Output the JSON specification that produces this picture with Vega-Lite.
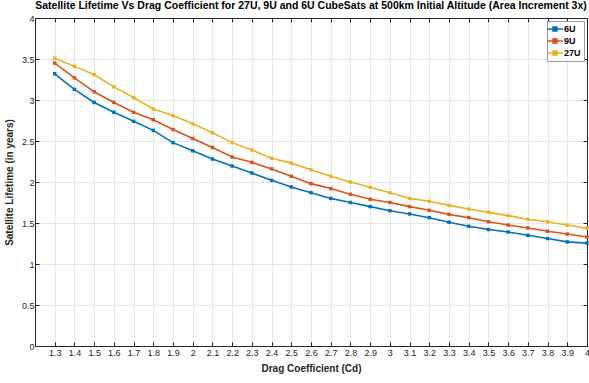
{
  "$schema": "https://vega.github.io/schema/vega-lite/v6.json",
  "width": 552,
  "height": 328,
  "autosize": {"type": "none"},
  "padding": {"left": 35, "top": 18, "right": 2, "bottom": 37},
  "title": {"text": "Satellite Lifetime Vs Drag Coefficient for 27U, 9U and 6U CubeSats at 500km Initial Altitude (Area Increment 3x)", "font": "Liberation Sans", "fontSize": 10.5, "fontWeight": "bold", "color": "#000000", "offset": 3, "anchor": "middle"},
  "config": {
    "view": {"stroke": "#262626", "strokeWidth": 1},
    "axis": {"labelFont": "Liberation Sans", "labelFontSize": 9, "labelColor": "#262626", "titleFont": "Liberation Sans", "titleFontSize": 10, "titleFontWeight": "bold", "titleColor": "#262626", "gridColor": "#e6e6e6", "domainColor": "#262626", "tickColor": "#262626", "tickSize": -4}
  },
  "data": {"values": [
    {"cd": 1.3, "s": "6U", "v": 3.32}, {"cd": 1.4, "s": "6U", "v": 3.13}, {"cd": 1.5, "s": "6U", "v": 2.97}, {"cd": 1.6, "s": "6U", "v": 2.85}, {"cd": 1.7, "s": "6U", "v": 2.74}, {"cd": 1.8, "s": "6U", "v": 2.63}, {"cd": 1.9, "s": "6U", "v": 2.48}, {"cd": 2.0, "s": "6U", "v": 2.38}, {"cd": 2.1, "s": "6U", "v": 2.28}, {"cd": 2.2, "s": "6U", "v": 2.195}, {"cd": 2.3, "s": "6U", "v": 2.11}, {"cd": 2.4, "s": "6U", "v": 2.02}, {"cd": 2.5, "s": "6U", "v": 1.94}, {"cd": 2.6, "s": "6U", "v": 1.87}, {"cd": 2.7, "s": "6U", "v": 1.80}, {"cd": 2.8, "s": "6U", "v": 1.75}, {"cd": 2.9, "s": "6U", "v": 1.70}, {"cd": 3.0, "s": "6U", "v": 1.65}, {"cd": 3.1, "s": "6U", "v": 1.61}, {"cd": 3.2, "s": "6U", "v": 1.565}, {"cd": 3.3, "s": "6U", "v": 1.51}, {"cd": 3.4, "s": "6U", "v": 1.46}, {"cd": 3.5, "s": "6U", "v": 1.42}, {"cd": 3.6, "s": "6U", "v": 1.39}, {"cd": 3.7, "s": "6U", "v": 1.35}, {"cd": 3.8, "s": "6U", "v": 1.31}, {"cd": 3.9, "s": "6U", "v": 1.27}, {"cd": 4.0, "s": "6U", "v": 1.255},
    {"cd": 1.3, "s": "9U", "v": 3.45}, {"cd": 1.4, "s": "9U", "v": 3.27}, {"cd": 1.5, "s": "9U", "v": 3.10}, {"cd": 1.6, "s": "9U", "v": 2.97}, {"cd": 1.7, "s": "9U", "v": 2.85}, {"cd": 1.8, "s": "9U", "v": 2.76}, {"cd": 1.9, "s": "9U", "v": 2.64}, {"cd": 2.0, "s": "9U", "v": 2.53}, {"cd": 2.1, "s": "9U", "v": 2.42}, {"cd": 2.2, "s": "9U", "v": 2.305}, {"cd": 2.3, "s": "9U", "v": 2.24}, {"cd": 2.4, "s": "9U", "v": 2.16}, {"cd": 2.5, "s": "9U", "v": 2.07}, {"cd": 2.6, "s": "9U", "v": 1.98}, {"cd": 2.7, "s": "9U", "v": 1.92}, {"cd": 2.8, "s": "9U", "v": 1.85}, {"cd": 2.9, "s": "9U", "v": 1.79}, {"cd": 3.0, "s": "9U", "v": 1.75}, {"cd": 3.1, "s": "9U", "v": 1.70}, {"cd": 3.2, "s": "9U", "v": 1.655}, {"cd": 3.3, "s": "9U", "v": 1.605}, {"cd": 3.4, "s": "9U", "v": 1.565}, {"cd": 3.5, "s": "9U", "v": 1.515}, {"cd": 3.6, "s": "9U", "v": 1.475}, {"cd": 3.7, "s": "9U", "v": 1.44}, {"cd": 3.8, "s": "9U", "v": 1.40}, {"cd": 3.9, "s": "9U", "v": 1.365}, {"cd": 4.0, "s": "9U", "v": 1.33},
    {"cd": 1.3, "s": "27U", "v": 3.51}, {"cd": 1.4, "s": "27U", "v": 3.41}, {"cd": 1.5, "s": "27U", "v": 3.31}, {"cd": 1.6, "s": "27U", "v": 3.16}, {"cd": 1.7, "s": "27U", "v": 3.03}, {"cd": 1.8, "s": "27U", "v": 2.89}, {"cd": 1.9, "s": "27U", "v": 2.81}, {"cd": 2.0, "s": "27U", "v": 2.71}, {"cd": 2.1, "s": "27U", "v": 2.60}, {"cd": 2.2, "s": "27U", "v": 2.48}, {"cd": 2.3, "s": "27U", "v": 2.39}, {"cd": 2.4, "s": "27U", "v": 2.29}, {"cd": 2.5, "s": "27U", "v": 2.23}, {"cd": 2.6, "s": "27U", "v": 2.15}, {"cd": 2.7, "s": "27U", "v": 2.07}, {"cd": 2.8, "s": "27U", "v": 2.00}, {"cd": 2.9, "s": "27U", "v": 1.935}, {"cd": 3.0, "s": "27U", "v": 1.87}, {"cd": 3.1, "s": "27U", "v": 1.80}, {"cd": 3.2, "s": "27U", "v": 1.765}, {"cd": 3.3, "s": "27U", "v": 1.715}, {"cd": 3.4, "s": "27U", "v": 1.67}, {"cd": 3.5, "s": "27U", "v": 1.63}, {"cd": 3.6, "s": "27U", "v": 1.59}, {"cd": 3.7, "s": "27U", "v": 1.545}, {"cd": 3.8, "s": "27U", "v": 1.515}, {"cd": 3.9, "s": "27U", "v": 1.475}, {"cd": 4.0, "s": "27U", "v": 1.435}
  ]},
  "layer": [
    {
      "mark": {"type": "point", "opacity": 0},
      "encoding": {
        "x": {"field": "cd", "type": "quantitative", "scale": {"domain": [1.2, 4.0], "nice": false, "zero": false},
          "axis": {"orient": "top", "values": [1.3,1.4,1.5,1.6,1.7,1.8,1.9,2.0,2.1,2.2,2.3,2.4,2.5,2.6,2.7,2.8,2.9,3.0,3.1,3.2,3.3,3.4,3.5,3.6,3.7,3.8,3.9,4.0], "labels": false, "title": null, "grid": false}},
        "y": {"field": "v", "type": "quantitative", "scale": {"domain": [0, 4], "nice": false},
          "axis": {"orient": "right", "values": [0,0.5,1,1.5,2,2.5,3,3.5,4], "labels": false, "title": null, "grid": false}}
      }
    },
    {
      "mark": {"type": "line", "strokeWidth": 1.6, "point": {"shape": "square", "size": 12, "filled": true}},
      "encoding": {
        "x": {"field": "cd", "type": "quantitative", "scale": {"domain": [1.2, 4.0], "nice": false, "zero": false},
          "axis": {"orient": "bottom", "grid": true, "values": [1.3,1.4,1.5,1.6,1.7,1.8,1.9,2.0,2.1,2.2,2.3,2.4,2.5,2.6,2.7,2.8,2.9,3.0,3.1,3.2,3.3,3.4,3.5,3.6,3.7,3.8,3.9,4.0], "format": "~g", "title": "Drag Coefficient (Cd)", "labelPadding": 6, "titlePadding": 6, "labelFlush": false}},
        "y": {"field": "v", "type": "quantitative", "scale": {"domain": [0, 4], "nice": false},
          "axis": {"orient": "left", "grid": true, "values": [0,0.5,1,1.5,2,2.5,3,3.5,4], "format": "~g", "title": "Satellite Lifetime (in years)", "labelPadding": 5, "titlePadding": 7, "labelFlush": false}},
        "color": {"field": "s", "type": "nominal", "scale": {"domain": ["6U", "9U", "27U"], "range": ["#0072BD", "#D95319", "#EDB120"]},
          "legend": {"title": null, "orient": "top-right", "offset": 3, "fillColor": "#ffffff", "strokeColor": "#999999", "padding": 3, "rowPadding": 2, "labelFont": "Liberation Sans", "labelFontSize": 9, "labelFontWeight": "bold", "labelColor": "#000000", "symbolType": "M-2,0H2M-0.5,-0.5H0.5V0.5H-0.5Z", "symbolSize": 64, "symbolStrokeWidth": 1.5, "labelOffset": 4, "cornerRadius": 0}}
      }
    }
  ],
  "resolve": {"axis": {"x": "independent", "y": "independent"}}
}
